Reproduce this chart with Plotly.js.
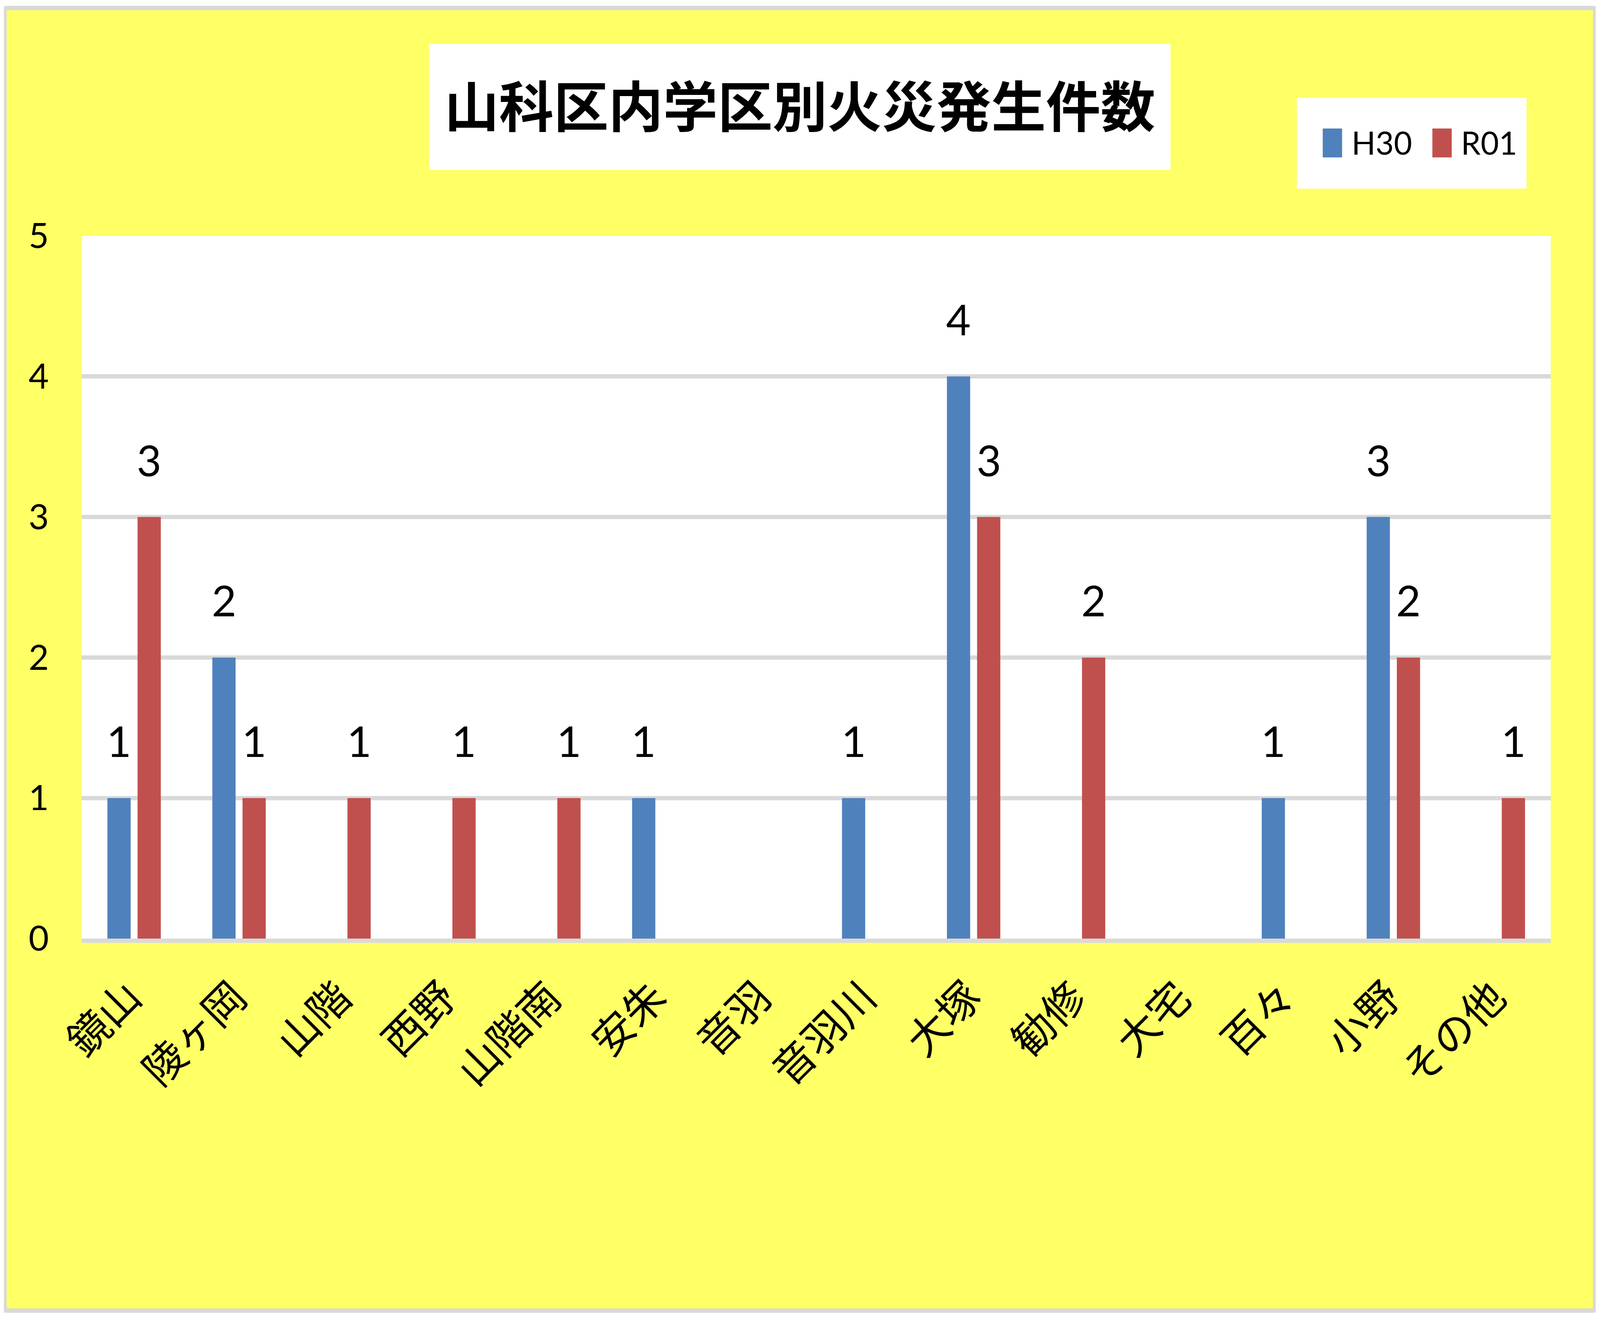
<!DOCTYPE html>
<html>
<head>
<meta charset="utf-8">
<script src="https://cdn.plot.ly/plotly-3.0.1.min.js"></script>
<style>
  html, body { margin: 0; padding: 0; background: #ffffff; overflow: hidden; }
  #frame { position: absolute; box-sizing: content-box; background: #FFFF66; border-style: solid; border-color: #D9D9D9; }
</style>
</head>
<body>
<div id="frame"><div id="chart"></div></div>
<script>
// ---- data ----
const categories = ["鏡山", "陵ヶ岡", "山階", "西野", "山階南", "安朱", "音羽", "音羽川", "大塚", "勧修", "大宅", "百々", "小野", "その他"];
const seriesNames = ["H30", "R01"];
const valuesH30 = [1, 2, null, null, null, 1, null, 1, 4, null, null, 1, 3, null];
const valuesR01 = [3, 1, 1, 1, 1, null, null, null, 3, 2, null, null, 2, 1];
const yTickValues = [0, 1, 2, 3, 4, 5];
const titleText = "山科区内学区別火災発生件数";

// ---- sizing: design is 6201 x 3377; fit it to the actual window ----
const vw = window.innerWidth || document.documentElement.clientWidth || 6201;
const vh = window.innerHeight || document.documentElement.clientHeight || 3377;
const sx = vw / 6201, sy = vh / 3377;
const sf = Math.min(Math.sqrt(sx * sy), sx * 1.25, sy * 1.25);   // font scale
const X = v => v * sx, Y = v => v * sy, F = v => v * sf;

const frame = document.getElementById("frame");
frame.style.left = X(15) + "px";
frame.style.top = Y(15) + "px";
frame.style.borderWidth = Y(11) + "px " + X(11) + "px";
frame.style.borderRadius = Math.min(X(6), Y(6)) + "px";
frame.style.width = X(6148) + "px";
frame.style.height = Y(3324) + "px";

// ---- geometry (reference pixels inside the frame) ----
const W = 6148, H = 3324;
const M = { l: 290, r: 163, t: 578, b: 947 };
const PW = W - M.l - M.r, PH = H - M.t - M.b;
const colors = ["#4F81BD", "#C0504D"];
const latin = "Lato, 'Open Sans', sans-serif";
const cjk = "'Noto Sans CJK JP', sans-serif";
const px2x = v => (v - M.l) / PW;
const px2y = v => (H - M.b - v) / PH;

const traces = [valuesH30, valuesR01].map((vals, i) => ({
  type: "bar",
  name: seriesNames[i],
  x: categories,
  y: vals,
  marker: { color: colors[i] },
  hoverinfo: "x+y+name"
}));

// data labels, built from the same arrays and placed through the axes
const labelShift = [-58.5, 58.5];
const annotations = [];
[valuesH30, valuesR01].forEach((vals, i) => {
  vals.forEach((v, j) => {
    if (v === null || v === undefined) return;
    annotations.push({
      x: categories[j], y: v, xref: "x", yref: "y",
      text: String(v), showarrow: false,
      xshift: X(labelShift[i]), yanchor: "bottom", yshift: Y(80),
      font: { family: latin, size: F(134), color: "#000000" }
    });
  });
});

// legend with large square keys, as in the reference
const legendKeys = [
  { sx0: 5101, sx1: 5176, tx: 5210 },
  { sx0: 5526, sx1: 5601, tx: 5634 }
];
const shapes = [
  { type: "rect", xref: "paper", yref: "paper",
    x0: px2x(1637), x1: px2x(4511), y0: px2y(409), y1: px2y(86),
    fillcolor: "#FFFFFF", line: { width: 0 } },
  { type: "rect", xref: "paper", yref: "paper",
    x0: px2x(5001), x1: px2x(5891), y0: px2y(457), y1: px2y(224),
    fillcolor: "#FFFFFF", line: { width: 0 } }
];
legendKeys.forEach((k, i) => {
  shapes.push({ type: "rect", xref: "paper", yref: "paper",
    x0: px2x(k.sx0), x1: px2x(k.sx1), y0: px2y(377), y1: px2y(303),
    fillcolor: colors[i], line: { width: 0 } });
  annotations.push({ xref: "paper", yref: "paper", x: px2x(k.tx), y: px2y(338),
    xanchor: "left", yanchor: "middle", showarrow: false, text: seriesNames[i],
    font: { family: latin, size: Math.min(F(122), X(122)), color: "#000000" } });
});

const layout = {
  width: X(W), height: Y(H),
  margin: { l: X(M.l), r: X(M.r), t: Y(M.t), b: Y(M.b), pad: 0 },
  paper_bgcolor: "rgba(0,0,0,0)",
  plot_bgcolor: "#FFFFFF",
  showlegend: false,
  barmode: "group",
  bargap: 0.425,
  bargroupgap: 0.23,
  title: {
    text: titleText,
    x: 0.5, xanchor: "center",
    y: 1 - 250 / H, yanchor: "middle",
    font: { family: cjk, size: Math.min(F(212), X(212)), weight: "bold", color: "#000000" }
  },
  xaxis: {
    type: "category",
    categoryorder: "array", categoryarray: categories,
    tickangle: -45,
    tickfont: { family: cjk, size: F(131), color: "#000000" },
    showline: true, linecolor: "#D9D9D9", linewidth: Y(11),
    showgrid: false, zeroline: false, ticks: "",
    ticklabelstandoff: Math.round(Y(34)),
    ticklabelshift: Math.round(X(-18))
  },
  yaxis: {
    range: [0, 5],
    tickvals: yTickValues,
    ticktext: yTickValues.map(String),
    tickfont: { family: latin, size: F(110), color: "#000000" },
    showgrid: true, gridcolor: "#D9D9D9", gridwidth: Y(11),
    zeroline: false, showline: false, ticks: "",
    ticklabelstandoff: Math.round(X(126))
  },
  shapes: shapes,
  annotations: annotations
};

Plotly.newPlot("chart", traces, layout, { staticPlot: true, displayModeBar: false });
</script>
</body>
</html>
